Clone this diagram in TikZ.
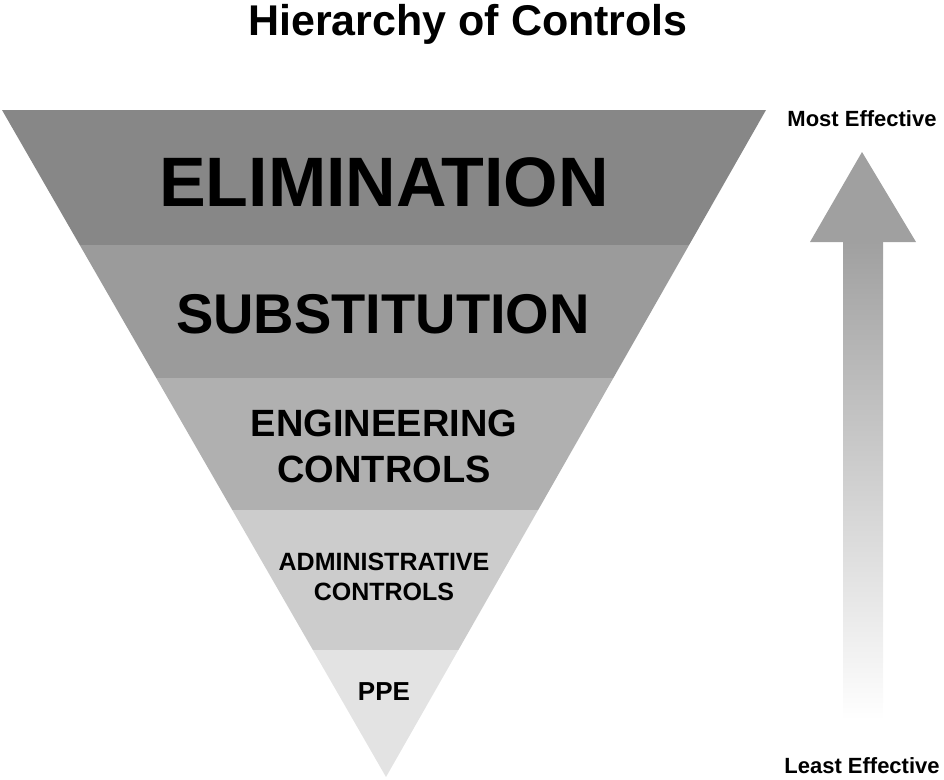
\documentclass[tikz,border=0pt]{standalone}
\usepackage{fontspec}
\setmainfont{Liberation Sans}
\usepackage{tikz}
\usetikzlibrary{positioning, calc}
\definecolor{bandA}{HTML}{878787}
\definecolor{bandB}{HTML}{9B9B9B}
\definecolor{bandC}{HTML}{B0B0B0}
\definecolor{bandD}{HTML}{CCCCCC}
\definecolor{bandE}{HTML}{E3E3E3}
\definecolor{arrowgray}{HTML}{A0A0A0}

\begin{document}
\begin{tikzpicture}[
        x=1pt, y=-1pt,
        label/.style={font=\bfseries, align=center, inner sep=0pt},
        side/.style={font=\bfseries\fontsize{22}{26}\selectfont, inner sep=0pt}
    ]
    \useasboundingbox (0,0) rectangle (944,779);
    % triangle bands
    \begin{scope}
        \clip (2,110) -- (766,110) -- (386,777) -- cycle;
        \fill[bandA] (0,110) rectangle (780,245);
        \fill[bandB] (0,245) rectangle (780,378);
        \fill[bandC] (0,378) rectangle (780,510);
        \fill[bandD] (0,510) rectangle (780,650);
        \fill[bandE] (0,650) rectangle (780,780);
    \end{scope}
    \node[label, font=\bfseries\fontsize{43}{47}\selectfont] (title) at (468,24) {Hierarchy of Controls};
    \node[label, font=\bfseries\fontsize{70}{74}\selectfont] (elim) at (384,182) {ELIMINATION};
    \node[label, font=\bfseries\fontsize{56}{60}\selectfont] (subst) at (383,314) {SUBSTITUTION};
    \node[label, font=\bfseries\fontsize{38}{46}\selectfont] (eng) at (384,446) {ENGINEERING\\CONTROLS};
    \node[label, font=\bfseries\fontsize{25}{30}\selectfont] (admin) at (384,577) {ADMINISTRATIVE\\CONTROLS};
    \node[label, font=\bfseries\fontsize{26}{30}\selectfont] (ppe) at (384,692) {PPE};
    % arrow
    \shade[top color=arrowgray, bottom color=white] (843,241) rectangle (883,720);
    \fill[arrowgray] (862,152) -- (916,242) -- (810,242) -- cycle;
    \node[side] (most) at (862,119) {Most Effective};
    \node[side] (least) at (862,766) {Least Effective};
\end{tikzpicture}
\end{document}
